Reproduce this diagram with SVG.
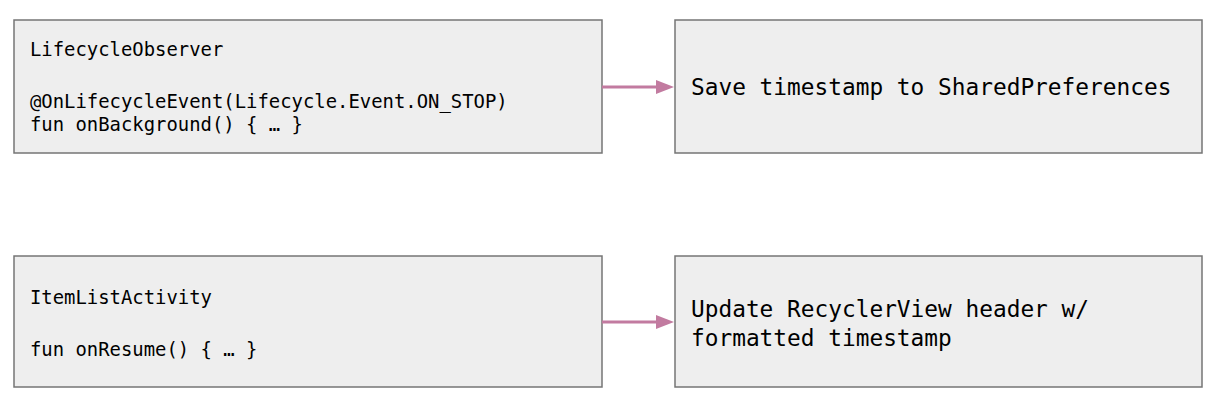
<svg xmlns="http://www.w3.org/2000/svg" width="1227" height="408" viewBox="0 0 1227 408">
<style>
.box{fill:#eeeeee;stroke:#757575;stroke-width:1.5}
.s{font-family:"DejaVu Sans Mono","Liberation Mono",monospace;font-size:18.9px;fill:#000}
.l{font-family:"DejaVu Sans Mono","Liberation Mono",monospace;font-size:22.8px;fill:#000}
.c{stroke:#c27ba0;stroke-width:3;fill:none}
.h{fill:#c27ba0}
</style>
<rect width="1227" height="408" fill="#ffffff"/>
<g id="node-observer">
<rect class="box" x="14" y="20" width="588" height="133"/>
<text class="s" x="30" y="56">LifecycleObserver</text>
<text class="s" x="30" y="108">@OnLifecycleEvent(Lifecycle.Event.ON_STOP)</text>
<text class="s" x="30" y="131">fun onBackground() { … }</text>
</g>
<g id="node-save">
<rect class="box" x="675" y="20" width="527" height="133"/>
<text class="l" x="691" y="95">Save timestamp to SharedPreferences</text>
</g>
<g id="node-activity">
<rect class="box" x="14" y="256" width="588" height="131"/>
<text class="s" x="30" y="304">ItemListActivity</text>
<text class="s" x="30" y="356">fun onResume() { … }</text>
</g>
<g id="node-update">
<rect class="box" x="675" y="256" width="527" height="131"/>
<text class="l" x="691" y="317">Update RecyclerView header w/</text>
<text class="l" x="691" y="346">formatted timestamp</text>
</g>
<g id="connectors">
<path class="c" d="M602,87 L664,87"/>
<path class="h" d="M656,80 L674,87 L656,94 z"/>
<path class="c" d="M602,322 L664,322"/>
<path class="h" d="M656,315 L674,322 L656,329 z"/>
</g>
</svg>
